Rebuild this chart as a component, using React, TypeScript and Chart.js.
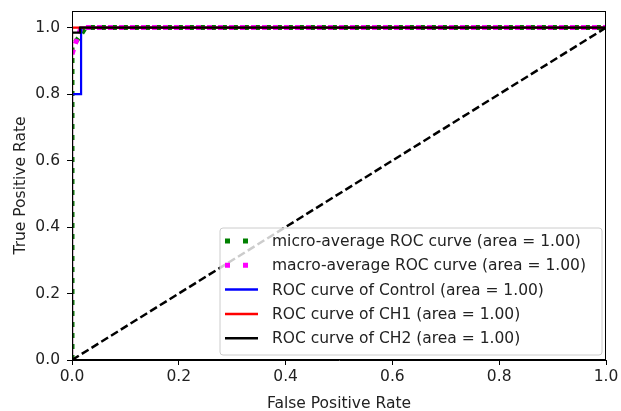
import React, { useEffect, useRef } from "react";
import { Chart, registerables } from "chart.js";

Chart.register(...registerables);

// ROC curve data
const microFpr = [0, 0, 0.008, 0.017, 0.025, 1];
const microTpr = [0, 0.94, 0.96, 0.98, 1, 1];
const macroFpr = [0, 0.006, 0.017, 1];
const macroTpr = [0.92, 0.95, 1, 1];
const controlFpr = [0, 0, 0.017, 0.017, 1];
const controlTpr = [0, 0.8, 0.8, 1, 1];
const ch1Fpr = [0, 0, 1];
const ch1Tpr = [0, 1, 1];
const ch2Fpr = [0, 0, 0.015, 0.015, 1];
const ch2Tpr = [0, 0.985, 0.985, 1, 1];
const chanceFpr = [0, 1];
const chanceTpr = [0, 1];

const xTicks = [0, 0.2, 0.4, 0.6, 0.8, 1.0];
const yTicks = [0, 0.2, 0.4, 0.6, 0.8, 1.0];

const legendLabels = [
  "micro-average ROC curve (area = 1.00)",
  "macro-average ROC curve (area = 1.00)",
  "ROC curve of Control (area = 1.00)",
  "ROC curve of CH1 (area = 1.00)",
  "ROC curve of CH2 (area = 1.00)",
];

const FONT = "'DejaVu Sans', sans-serif";
const TEXT = "#222";
const FS = 15.5;

function pts(xs: number[], ys: number[]) {
  return xs.map((x, i) => ({ x, y: ys[i] }));
}

const frameLegendPlugin = {
  id: "frameLegend",
  afterDatasetsDraw(chart: any) {
    const { ctx, chartArea: a } = chart;
    ctx.save();
    ctx.strokeStyle = "#000";
    ctx.lineWidth = 1;
    ctx.strokeRect(Math.round(a.left) + 0.5, Math.round(a.top) + 0.5, Math.round(a.right - a.left) - 1, Math.round(a.bottom - a.top) - 1);
    ctx.restore();
  },
  afterDraw(chart: any) {
    const { ctx, chartArea: a } = chart;
    const ds = chart.data.datasets;
    const boxR = a.right - 4;
    const boxB = a.bottom - 5;
    const boxW = 382;
    const boxH = 127;
    const boxL = boxR - boxW;
    const boxT = boxB - boxH;
    ctx.save();
    ctx.beginPath();
    const r = 3;
    ctx.moveTo(boxL + r, boxT);
    ctx.lineTo(boxR - r, boxT);
    ctx.quadraticCurveTo(boxR, boxT, boxR, boxT + r);
    ctx.lineTo(boxR, boxB - r);
    ctx.quadraticCurveTo(boxR, boxB, boxR - r, boxB);
    ctx.lineTo(boxL + r, boxB);
    ctx.quadraticCurveTo(boxL, boxB, boxL, boxB - r);
    ctx.lineTo(boxL, boxT + r);
    ctx.quadraticCurveTo(boxL, boxT, boxL + r, boxT);
    ctx.closePath();
    ctx.fillStyle = "rgba(255,255,255,0.8)";
    ctx.fill();
    ctx.strokeStyle = "#cccccc";
    ctx.lineWidth = 1;
    ctx.stroke();

    ctx.font = `${FS}px ${FONT}`;
    ctx.textBaseline = "middle";
    ctx.fillStyle = TEXT;
    const hx0 = boxL + 5;
    const hx1 = boxL + 38;
    const tx = boxL + 52;
    for (let i = 0; i < legendLabels.length; i++) {
      const y = boxT + 13 + i * 24.3;
      const d = ds[i];
      ctx.save();
      ctx.strokeStyle = d.borderColor;
      ctx.lineCap = "butt";
      if (i < 2) {
        ctx.lineWidth = 5;
        ctx.setLineDash([5, 13]);
      } else {
        ctx.lineWidth = 2.5;
        ctx.setLineDash([]);
      }
      ctx.beginPath();
      ctx.moveTo(hx0, y);
      ctx.lineTo(hx1, y);
      ctx.stroke();
      ctx.restore();
      ctx.fillStyle = TEXT;
      ctx.fillText(legendLabels[i], tx, y + 1);
    }
    ctx.restore();
  },
};

export default function App() {
  const ref = useRef<HTMLCanvasElement | null>(null);
  useEffect(() => {
    if (!ref.current) return;
    const lineDs = (label: string, xs: number[], ys: number[], color: string, width: number, dash: number[], order: number) => ({
      label,
      data: pts(xs, ys),
      borderColor: color,
      backgroundColor: color,
      borderWidth: width,
      borderDash: dash,
      borderCapStyle: "butt",
      pointRadius: 0,
      pointHoverRadius: 0,
      showLine: true,
      fill: false,
      tension: 0,
      clip: 0,
      order,
    });
    const chart = new Chart(ref.current, {
      type: "scatter",
      data: {
        datasets: [
          lineDs(legendLabels[0], microFpr, microTpr, "#008000", 5, [5, 6], 6),
          lineDs(legendLabels[1], macroFpr, macroTpr, "#ff00ff", 5, [5, 6], 5),
          lineDs(legendLabels[2], controlFpr, controlTpr, "#0000ff", 2.2, [], 4),
          lineDs(legendLabels[3], ch1Fpr, ch1Tpr, "#ff0000", 2.2, [], 3),
          lineDs(legendLabels[4], ch2Fpr, ch2Tpr, "#000000", 2.2, [], 2),
          lineDs("chance", chanceFpr, chanceTpr, "#000000", 2.5, [8, 3.5], 1),
        ] as any,
      },
      options: {
        responsive: false,
        animation: false,
        devicePixelRatio: 1,
        layout: { padding: { top: 11, right: 15, left: 0, bottom: 0 } },
        plugins: { legend: { display: false }, tooltip: { enabled: false } },
        events: [],
        scales: {
          x: {
            type: "linear",
            min: 0,
            max: 1,
            afterFit: (s: any) => { s.height = 51; s.paddingLeft = 0; s.paddingRight = 0; },
            afterBuildTicks: (s: any) => { s.ticks = xTicks.map((v) => ({ value: v })); },
            grid: { display: true, drawOnChartArea: false, drawTicks: true, tickLength: 5, color: "#000", tickColor: "#000" },
            border: { display: true, color: "#000", width: 1 },
            ticks: {
              padding: 3,
              color: TEXT,
              font: { family: FONT, size: FS },
              maxRotation: 0,
              callback: (v: any) => Number(v).toFixed(1),
            },
            title: {
              display: true,
              text: "False Positive Rate",
              color: TEXT,
              font: { family: FONT, size: FS },
              padding: { top: 0, bottom: -2 },
            },
          },
          y: {
            type: "linear",
            min: 0,
            max: 1.05,
            afterFit: (s: any) => { s.width = 72; s.paddingTop = 0; s.paddingBottom = 0; },
            afterBuildTicks: (s: any) => { s.ticks = yTicks.map((v) => ({ value: v })); },
            grid: { display: true, drawOnChartArea: false, drawTicks: true, tickLength: 5, color: "#000", tickColor: "#000" },
            border: { display: true, color: "#000", width: 1 },
            ticks: {
              padding: 7,
              color: TEXT,
              font: { family: FONT, size: FS },
              callback: (v: any) => Number(v).toFixed(1),
            },
            title: {
              display: true,
              text: "True Positive Rate",
              color: TEXT,
              font: { family: FONT, size: FS },
              padding: { top: 12, bottom: 0 },
            },
          },
        },
      },
      plugins: [frameLegendPlugin],
    } as any);
    return () => chart.destroy();
  }, []);
  return (
    <div style={{ position: "absolute", left: 0, top: 0, width: 621, height: 411, background: "#fff" }}>
      <canvas ref={ref} width={621} height={411} style={{ width: 621, height: 411, display: "block" }} />
    </div>
  );
}
